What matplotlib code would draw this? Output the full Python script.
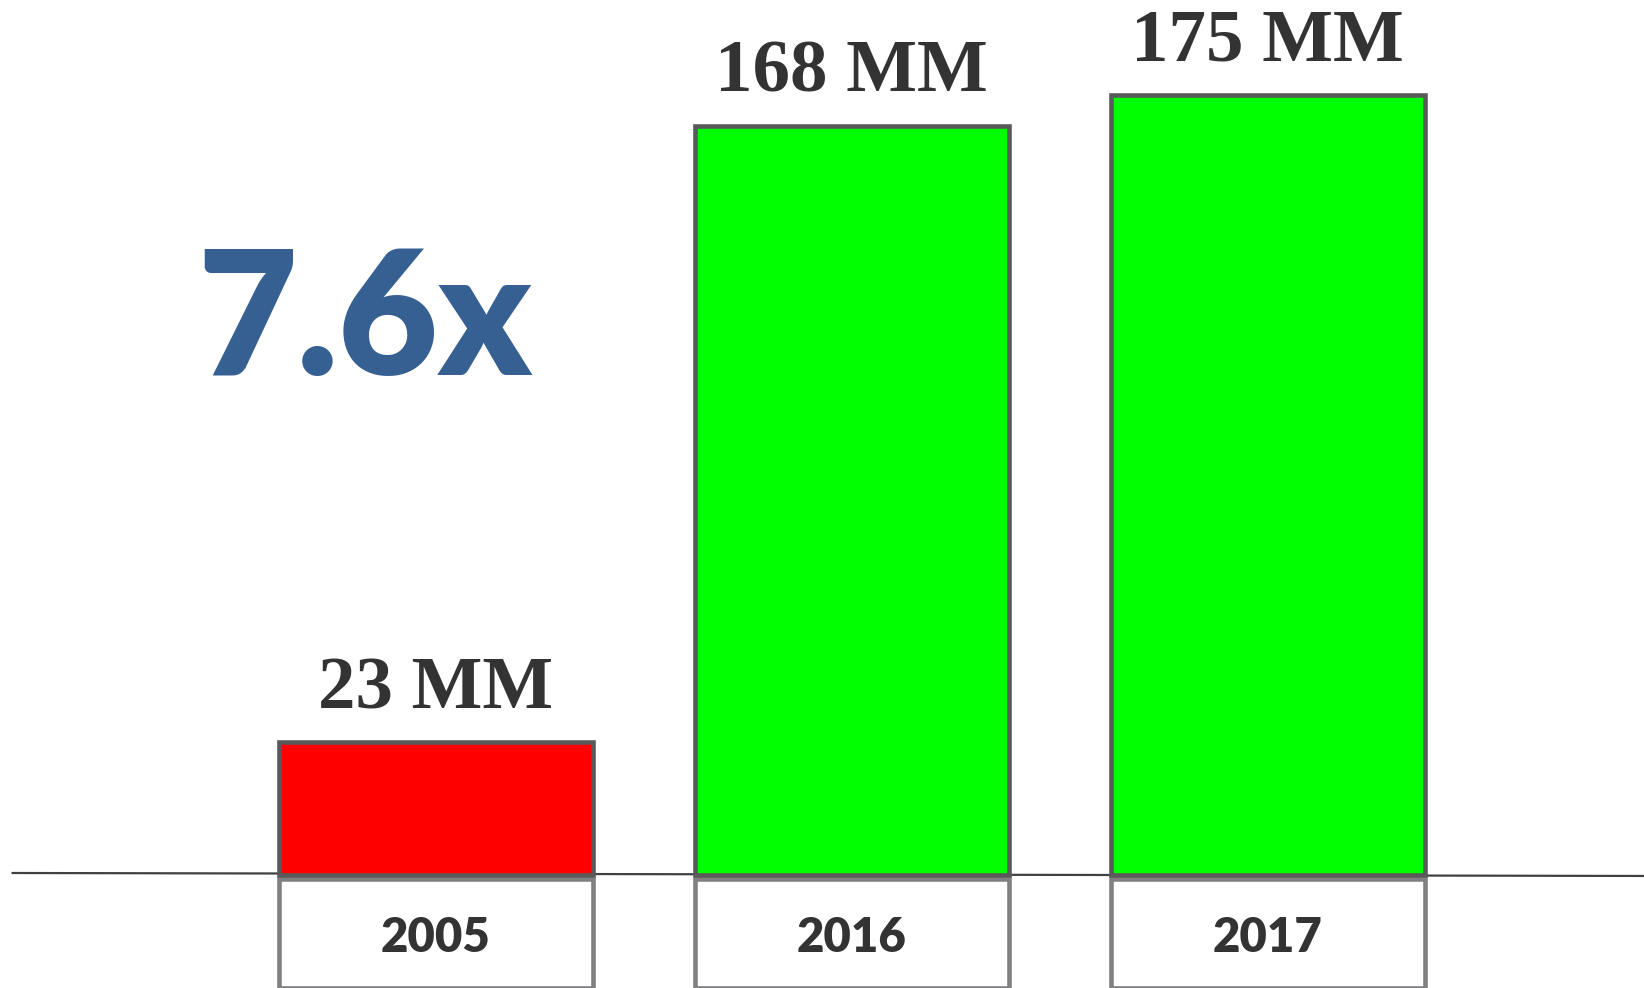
import matplotlib.pyplot as plt
import matplotlib.transforms as mtransforms
import numpy as np

# data
years = ['2005', '2016', '2017']
value_labels = ['23 MM', '168 MM', '175 MM']
# bar heights as drawn in the picture (the 2005 bar is not to scale)
bar_heights = [29.8, 168, 175]
bar_colors = ['#ff0000', '#00ff00', '#00ff00']
multiple_text = '7.6x'

fig = plt.figure(figsize=(16.44, 9.88), dpi=100)
ax = fig.add_axes([0, 0, 1, 1])
ax.set_xlim(-1.0476, 2.9043)
ax.set_ylim(-25.34, 196.19)
ax.axis('off')

x = np.arange(len(years))
width = 0.755

# slightly sloped baseline across the figure
ax.plot([0.007, 1.0], [0.1164, 0.1134], transform=ax.transAxes,
        color='#404040', lw=1.6, zorder=1, solid_capstyle='butt')

# bars
ax.bar(x, bar_heights, width=width, color=bar_colors,
       edgecolor='#595959', linewidth=3.3, zorder=3)

# category boxes under the baseline
ax.bar(x, [-24.3] * len(x), bottom=-1.0, width=width, color='white',
       edgecolor='#808083', linewidth=3.3, zorder=2)

# value labels above the bars
for xi, h, lab in zip(x, bar_heights, value_labels):
    ax.annotate(lab, (xi, h), xytext=(0, 24.5), textcoords='offset points',
                ha='center', va='baseline', fontsize=54, fontweight='bold',
                family='Liberation Serif', color='#333333')

# year labels inside the boxes
trans = mtransforms.blended_transform_factory(ax.transData, fig.transFigure)
for xi, yr in zip(x, years):
    ax.text(xi, 1 - 952 / 988, yr, transform=trans, ha='center',
            va='baseline', fontsize=34, fontweight='heavy', family='Lato',
            color='#333333')

# growth multiple
fig.text(365 / 1644, 1 - 375 / 988, multiple_text, ha='center',
         va='baseline', fontsize=124, fontweight='heavy', family='Lato',
         color='#376092')

fig.savefig('out.png', dpi=100, facecolor='white')
